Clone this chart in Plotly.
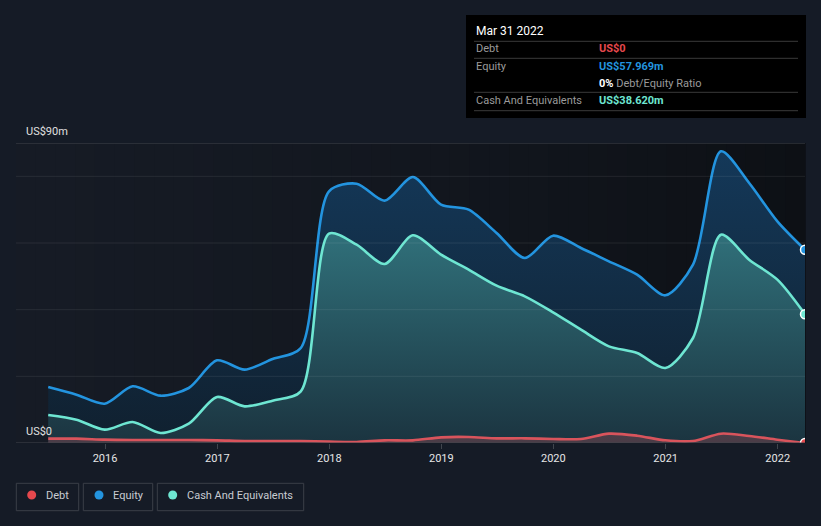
import plotly.graph_objects as go

# ---------------- data ----------------
dates = ["2015-06-30", "2015-09-30", "2015-12-31", "2016-03-31", "2016-06-30", "2016-09-30",
         "2016-12-31", "2017-03-31", "2017-06-30", "2017-09-30", "2017-12-31", "2018-03-31",
         "2018-06-30", "2018-09-30", "2018-12-31", "2019-03-31", "2019-06-30", "2019-09-30",
         "2019-12-31", "2020-03-31", "2020-06-30", "2020-09-30", "2020-12-31", "2021-03-31",
         "2021-06-30", "2021-09-30", "2021-12-31", "2022-03-31"]
equity = [16.8, 14.5, 11.8, 17.0, 14.2, 16.5, 24.8, 22.0, 25.2, 28.5, 75.5, 77.8,
          72.7, 79.8, 71.5, 70.0, 63.0, 55.5, 62.2, 58.5, 54.5, 50.5, 44.3, 53.5,
          87.5, 78.0, 66.5, 57.969]
cash = [8.4, 7.0, 4.0, 6.3, 3.0, 5.8, 13.8, 11.0, 12.7, 15.5, 62.8, 59.5,
        53.7, 62.3, 56.5, 52.0, 47.2, 44.0, 39.2, 34.0, 29.0, 27.0, 22.5, 31.5,
        62.5, 55.0, 49.0, 38.62]
debt = [1.3, 1.3, 1.0, 0.9, 0.9, 0.9, 0.8, 0.6, 0.6, 0.6, 0.4, 0.3,
        0.8, 0.8, 1.7, 1.8, 1.4, 1.4, 1.2, 1.2, 2.8, 2.2, 0.8, 0.6,
        2.8, 2.1, 1.0, 0.0]
year_ticks = ["2016-01-01", "2017-01-01", "2018-01-01", "2019-01-01",
              "2020-01-01", "2021-01-01", "2022-01-01"]
year_labels = ["2016", "2017", "2018", "2019", "2020", "2021", "2022"]

# ---------------- geometry helpers ----------------
W, H = 821, 526
L, R, T, B = 16, 805, 143, 443


def px(x):
    return (x - L) / (R - L)


def py(y):
    return (B - y) / (B - T)


C_DEBT = "#e5484d"
C_DEBT_LINE = "#d9545c"
C_EQ = "#2394df"
C_CASH = "#6ee6d2"
FONT = "Roboto"

fig = go.Figure()

fig.add_trace(go.Scatter(
    x=dates, y=equity, mode="lines", line=dict(color=C_EQ, width=2.6, shape="spline", smoothing=0.8),
    fill="tozeroy",
    fillgradient=dict(type="vertical", start=0, stop=90,
                      colorscale=[[0, "#10202f"], [1, "#14395a"]]),
    hoverinfo="skip", showlegend=False))
fig.add_trace(go.Scatter(
    x=dates, y=cash, mode="lines", line=dict(color=C_CASH, width=2.6, shape="spline", smoothing=0.8),
    fill="tozeroy",
    fillgradient=dict(type="vertical", start=0, stop=63,
                      colorscale=[[0, "#1b3440"], [1, "#30707a"]]),
    hoverinfo="skip", showlegend=False))
fig.add_trace(go.Scatter(
    x=dates, y=debt, mode="lines", line=dict(color=C_DEBT_LINE, width=2.6, shape="spline", smoothing=0.8),
    fill="tozeroy", fillcolor="rgba(217,84,92,0.25)",
    hoverinfo="skip", showlegend=False))

# end markers
for series, col in [(equity, C_EQ), (cash, C_CASH), (debt, C_DEBT)]:
    fig.add_trace(go.Scatter(
        x=[dates[-1]], y=[series[-1]], mode="markers",
        marker=dict(size=9, color=col, line=dict(color="white", width=1.5)),
        hoverinfo="skip", showlegend=False))

shapes = []
# plot background gradient (left -> right)
n = 40
c0 = (0x16, 0x1b, 0x25)
c1 = (0x0d, 0x10, 0x15)
for i in range(n):
    t = (i + 0.5) / n
    t = t ** 1.3
    c = tuple(int(round(a + (b - a) * t)) for a, b in zip(c0, c1))
    shapes.append(dict(type="rect", xref="paper", yref="paper",
                       x0=i / n, x1=(i + 1) / n + 0.001, y0=0, y1=1,
                       fillcolor="rgb(%d,%d,%d)" % c, line=dict(width=0), layer="below"))
# gridlines
for v in [20, 40, 60, 80]:
    shapes.append(dict(type="line", xref="paper", yref="y", x0=0, x1=1, y0=v, y1=v,
                       line=dict(color="rgba(255,255,255,0.08)", width=1), layer="above"))
shapes.append(dict(type="line", xref="paper", yref="y", x0=0, x1=1, y0=90, y1=90,
                   line=dict(color="#40454d", width=1), layer="above"))
shapes.append(dict(type="line", xref="paper", yref="y", x0=0, x1=1, y0=0, y1=0,
                   line=dict(color="#40454d", width=1), layer="above"))

# tooltip box
shapes.append(dict(type="rect", xref="paper", yref="paper",
                   x0=px(466), x1=px(806), y0=py(118), y1=py(15),
                   fillcolor="#000000", line=dict(width=0), layer="above"))
for yy in [41.3, 58.3, 92.3, 110.7]:
    shapes.append(dict(type="line", xref="paper", yref="paper",
                       x0=px(474), x1=px(798), y0=py(yy), y1=py(yy),
                       line=dict(color="#3a3a3a", width=1), layer="above"))

annotations = []


def ann(x, y, text, color, size=11, xanchor="left"):
    annotations.append(dict(xref="paper", yref="paper", x=px(x), y=py(y), text=text,
                            showarrow=False, xanchor=xanchor, yanchor="middle",
                            font=dict(family=FONT, size=size, color=color)))


ann(474, 30.7, "Mar 31 2022", "#ffffff", 12)
ann(474, 48.7, "Debt", "#9a9a9a")
ann(597, 48.7, "<b>US$0</b>", C_DEBT)
ann(474, 66.3, "Equity", "#9a9a9a")
ann(597, 66.3, "<b>US$57.969m</b>", C_EQ)
ann(597, 83.3, "<b><span style='color:#ffffff'>0%</span></b> Debt/Equity Ratio", "#9a9a9a")
ann(474, 100.7, "Cash And Equivalents", "#9a9a9a")
ann(597, 100.7, "<b>US$38.620m</b>", C_CASH)

# y labels
ann(24, 131.5, "US$90m", "#e0e0e0", 11)
ann(24, 431.5, "US$0", "#e0e0e0", 11)

# legend
legend_items = [("Debt", C_DEBT, 16.3, 78.7, 31.7, 43.5),
                ("Equity", C_EQ, 83.3, 152.7, 99.0, 110.5),
                ("Cash And Equivalents", C_CASH, 157.3, 303.7, 172.7, 184.5)]
for label, col, bx0, bx1, dx, tx in legend_items:
    shapes.append(dict(type="rect", xref="paper", yref="paper",
                       x0=px(bx0), x1=px(bx1), y0=py(510.7), y1=py(483.3),
                       line=dict(color="#3a3f48", width=1), fillcolor="rgba(0,0,0,0)"))
    shapes.append(dict(type="circle", xref="paper", yref="paper",
                       xsizemode="pixel", ysizemode="pixel",
                       xanchor=px(dx), yanchor=py(495), x0=-4.5, x1=4.5, y0=-4.5, y1=4.5,
                       fillcolor=col, line=dict(width=0)))
    ann(tx, 495, label, "#c8ccd2", 11)

fig.update_layout(
    width=W, height=H,
    margin=dict(l=L, r=W - R, t=T, b=H - B, pad=0),
    paper_bgcolor="#151b26", plot_bgcolor="rgba(0,0,0,0)",
    font=dict(family=FONT, color="#e0e0e0"),
    shapes=shapes, annotations=annotations,
    xaxis=dict(type="date", range=["2015-03-17", "2022-03-31"],
               tickvals=year_ticks, ticktext=year_labels,
               ticks="outside", ticklen=5, tickcolor="#40454d",
               tickfont=dict(family=FONT, size=11, color="#e6e6e6"),
               showgrid=False, zeroline=False, showline=False, fixedrange=True),
    yaxis=dict(range=[0, 90], showgrid=False, zeroline=False, showticklabels=False,
               showline=False, fixedrange=True),
    showlegend=False,
)

fig.write_html("out.html", config={"displayModeBar": False},
               post_script="document.body.style.margin='0';document.body.style.background='#151b26';")
